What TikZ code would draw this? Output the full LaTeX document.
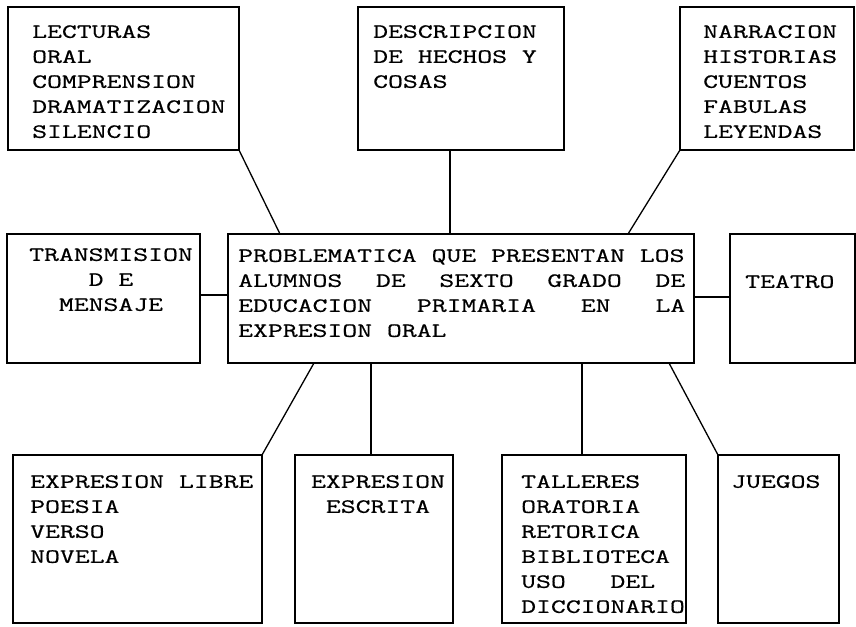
\documentclass[tikz,border=0pt]{standalone}
\usepackage{fontspec}
\newfontfamily\tw[FakeStretch=1.43,FakeBold=0.6]{Latin Modern Mono}
\usetikzlibrary{calc}
\begin{document}
\begin{tikzpicture}[x=1pt,y=-1pt,
  box/.style={draw, line width=1.3pt, inner sep=0pt, outer sep=0pt, anchor=north west},
  txt/.style={inner sep=0pt, anchor=north west, align=left, font={\tw\fontsize{20.2pt}{25pt}\selectfont}},
  ctxt/.style={txt, anchor=north, align=center},
  conn/.style={line width=1.3pt}]
\useasboundingbox (0,0) rectangle (856,626);
% boxes
\node[box, minimum width=231pt, minimum height=143pt] (lect) at (8,7) {};
\node[box, minimum width=206pt, minimum height=143pt] (desc) at (358,7) {};
\node[box, minimum width=174pt, minimum height=143pt] (narr) at (680,7) {};
\node[box, minimum width=193pt, minimum height=129pt] (trans) at (7,234) {};
\node[box, minimum width=466pt, minimum height=129pt] (cen) at (228,234) {};
\node[box, minimum width=125pt, minimum height=129pt] (teat) at (730,234) {};
\node[box, minimum width=249pt, minimum height=168pt] (libre) at (13,455) {};
\node[box, minimum width=158pt, minimum height=168pt] (escr) at (295,455) {};
\node[box, minimum width=184pt, minimum height=168pt] (tall) at (502,455) {};
\node[box, minimum width=121pt, minimum height=168pt] (jueg) at (718,455) {};
% texts
\node[txt] (lectT) at (32,25) {LECTURAS\\ORAL\\COMPRENSION\\DRAMATIZACION\\SILENCIO};
\node[txt] (descT) at (373,25) {DESCRIPCION\\DE HECHOS Y\\COSAS};
\node[txt] (narrT) at (703,25) {NARRACION\\HISTORIAS\\CUENTOS\\FABULAS\\LEYENDAS};
\node[ctxt] (transT) at (111,248) {TRANSMISION\\D E\\MENSAJE};
\node[txt] (cenT) at (238,249) {PROBLEMATICA QUE PRESENTAN LOS\\
\hbox to 447pt{ALUMNOS\hfill DE\hfill SEXTO\hfill GRADO\hfill DE}\\
\hbox to 447pt{EDUCACION\hfill PRIMARIA\hfill EN\hfill LA}\\
EXPRESION ORAL};
\node[txt] (teatT) at (745,275) {TEATRO};
\node[txt] (libreT) at (30,475) {EXPRESION LIBRE\\POESIA\\VERSO\\NOVELA};
\node[ctxt] (escrT) at (378,475) {EXPRESION\\ESCRITA};
\node[txt] (tallT) at (521,475) {TALLERES\\ORATORIA\\RETORICA\\BIBLIOTECA\\USO~~~DEL\\DICCIONARIO};
\node[txt] (juegT) at (731,475) {JUEGOS};
% connectors
\draw[conn] (lect.south east) -- ($(cen.north west)+(52,0)$);
\draw[conn] ($(desc.south west)+(92,0)$) -- ($(cen.north west)+(222,0)$);
\draw[conn] (narr.south west) -- ($(cen.north west)+(400,0)$);
\draw[conn] ($(trans.east)+(0,-3.5)$) -- ($(cen.west)+(0,-3.5)$);
\draw[conn] ($(cen.east)+(0,-1.5)$) -- ($(teat.west)+(0,-1.5)$);
\draw[conn] (libre.north east) -- ($(cen.south west)+(86,0)$);
\draw[conn] ($(escr.north west)+(76,0)$) -- ($(cen.south west)+(143,0)$);
\draw[conn] ($(tall.north west)+(80,0)$) -- ($(cen.south west)+(354,0)$);
\draw[conn] (jueg.north west) -- ($(cen.south west)+(441,0)$);
\end{tikzpicture}
\end{document}
